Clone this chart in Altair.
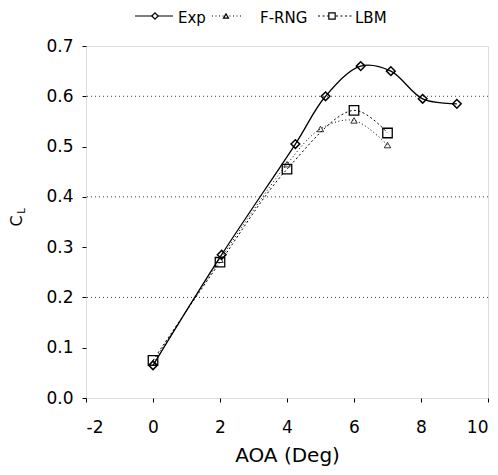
import altair as alt
import pandas as pd

# ---- data ----
exp_aoa = [0.0, 2.05, 4.25, 5.15, 6.2, 7.1, 8.05, 9.07]
exp_cl = [0.065, 0.285, 0.505, 0.600, 0.660, 0.650, 0.595, 0.585]
rng_aoa = [0.0, 2.0, 4.0, 5.0, 6.0, 7.0]
rng_cl = [0.070, 0.275, 0.465, 0.535, 0.552, 0.503]
lbm_aoa = [0.0, 2.0, 4.0, 6.0, 7.0]
lbm_cl = [0.075, 0.270, 0.455, 0.572, 0.527]
series_names = ["Exp", "F-RNG", "LBM"]
x_ticks = [-2, 0, 2, 4, 6, 8, 10]
y_ticks = [0.0, 0.1, 0.2, 0.3, 0.4, 0.5, 0.6, 0.7]
grid_y = [0.2, 0.4, 0.6]

FONT = "DejaVu Sans"
W, H = 402, 352

xs = alt.Scale(domain=[-2, 10], nice=False, zero=False)
ys = alt.Scale(domain=[0, 0.7], nice=False)

x_axis = alt.Axis(values=x_ticks, title="AOA (Deg)", grid=False, domain=False,
                  labelExpr="'' + datum.value",
                  tickSize=4, tickColor="black", labelFontSize=17, labelFont=FONT,
                  labelColor="black", labelPadding=17, titleFont=FONT, titleFontSize=20,
                  titleFontWeight="normal", titleColor="black", titlePadding=10)
y_axis = alt.Axis(values=y_ticks, format=".1f", title=None, grid=False, domain=False,
                  tickSize=4, tickColor="black", labelFontSize=17, labelFont=FONT,
                  labelColor="black", labelPadding=9)

grid_df = pd.DataFrame({"cl": grid_y})
grid = alt.Chart(grid_df).mark_rule(color="#444444", strokeDash=[1, 3], strokeWidth=1).encode(
    y=alt.Y("cl:Q", scale=ys, axis=y_axis)
)

specs = [
    (exp_aoa, exp_cl, series_names[0], "diamond", [], 1.3, 75, 1.5),
    (rng_aoa, rng_cl, series_names[1], "triangle-up", [1, 2.5], 1.0, 40, 0.8),
    (lbm_aoa, lbm_cl, series_names[2], "square", [2, 2.5], 1.0, 90, 1.3),
]

layers = [grid]
for aoa, cl, name, shape, dash, lw, size, pw in specs:
    df = pd.DataFrame({"aoa": aoa, "cl": cl, "series": name})
    base = alt.Chart(df).encode(
        x=alt.X("aoa:Q", scale=xs, axis=x_axis),
        y=alt.Y("cl:Q", scale=ys, axis=y_axis),
    )
    line_kw = dict(color="black", strokeWidth=lw, interpolate="catmull-rom")
    if dash:
        line_kw["strokeDash"] = dash
    layers.append(base.mark_line(**line_kw))
    layers.append(base.mark_point(shape=shape, size=size, filled=False, color="black",
                                  strokeWidth=pw, opacity=1))

# ---- manual legend above the plot ----
one = pd.DataFrame({"k": [0]})
legend_y = -30
legend_items = [
    # (name, line x0, line x1, symbol x, text x, shape, dash, size)
    (series_names[0], 49, 87, 69, 92, "diamond", [], 40),
    (series_names[1], 126, 156, 140, 174, "triangle-up", [1, 2.5], 25),
    (series_names[2], 232, 266, 246, 269, "square", [2, 2.5], 40),
]
for name, x0, x1, sx, tx, shape, dash, size in legend_items:
    rk = dict(color="black", strokeWidth=1.2)
    if dash:
        rk["strokeDash"] = dash
        rk["strokeWidth"] = 1.0
    layers.append(alt.Chart(one).mark_rule(**rk).encode(
        x=alt.value(x0), x2=alt.value(x1), y=alt.value(legend_y)))
    layers.append(alt.Chart(one).mark_point(shape=shape, size=size, filled=True,
                                            fill="white", stroke="black",
                                            strokeWidth=1.2, opacity=1).encode(
        x=alt.value(sx), y=alt.value(legend_y)))
    layers.append(alt.Chart(one).mark_text(align="left", baseline="middle", font=FONT,
                                           fontSize=15, color="black").encode(
        x=alt.value(tx), y=alt.value(legend_y + 2), text=alt.value(name)))

# ---- y title C_L ----
layers.append(alt.Chart(one).mark_text(angle=270, font=FONT, fontSize=16, color="black",
                                       align="center", baseline="middle").encode(
    x=alt.value(-69), y=alt.value(175), text=alt.value("C")))
layers.append(alt.Chart(one).mark_text(angle=270, font=FONT, fontSize=10, color="black",
                                       align="center", baseline="middle").encode(
    x=alt.value(-64), y=alt.value(165), text=alt.value("L")))

chart = alt.layer(*layers).properties(
    width=W, height=H,
    autosize=alt.AutoSizeParams(type="none"),
    padding={"left": 78, "top": 38, "right": 2, "bottom": 77},
).configure_view(stroke="black", strokeWidth=1.5).configure(background="white")

chart.save("out.html", embed_options={"renderer": "svg", "actions": False})
